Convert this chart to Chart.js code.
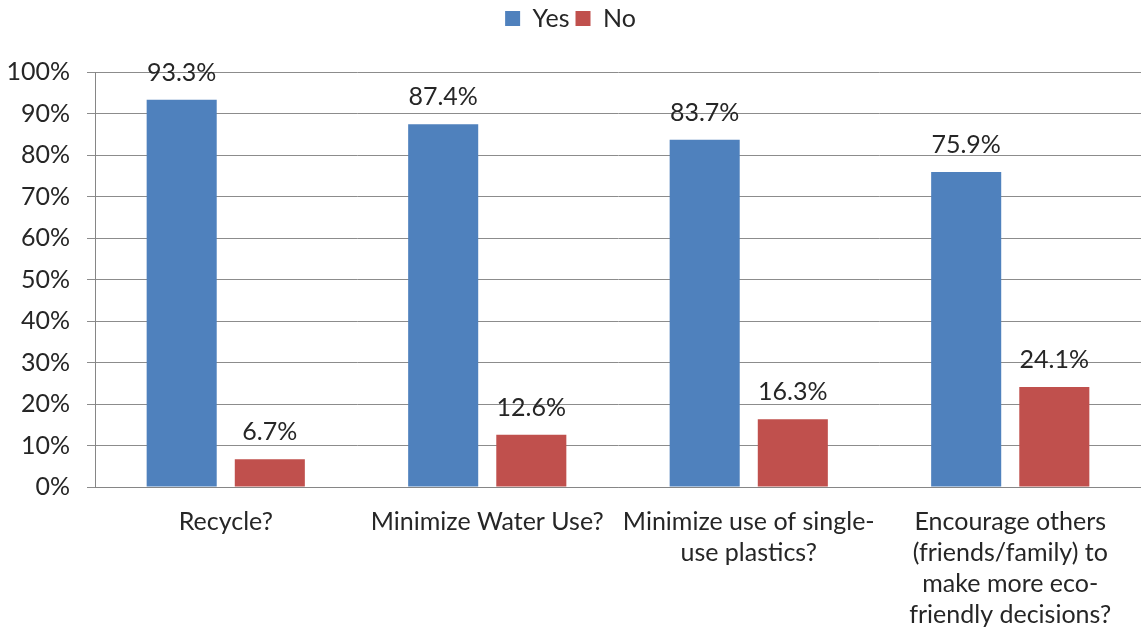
<!DOCTYPE html>
<html>
<head>
<meta charset="utf-8">
<script src="https://cdn.jsdelivr.net/npm/chart.js@4.4.0/dist/chart.umd.min.js"></script>
<style>
  html, body { margin: 0; padding: 0; background: #fff; }
  #wrap { width: 1141px; height: 633px; position: relative; }
</style>
</head>
<body>
<div id="wrap"><canvas id="chart"></canvas></div>
<script>
const categories = [
  ['Recycle?'],
  ['Minimize Water Use?'],
  ['Minimize use of single-', 'use plastics?'],
  ['Encourage others', '(friends/family) to', 'make more eco-', 'friendly decisions?']
];
const yesValues = [93.3, 87.4, 83.7, 75.9];
const noValues = [6.7, 12.6, 16.3, 24.1];
const seriesNames = ['Yes', 'No'];

const FONT = 'Lato, "Open Sans", sans-serif';
const FSIZE = 25;

const valueLabels = {
  id: 'valueLabels',
  afterDatasetsDraw(chart) {
    const ctx = chart.ctx;
    ctx.save();
    ctx.font = FSIZE + 'px ' + FONT;
    ctx.fillStyle = '#262626';
    ctx.textAlign = 'center';
    ctx.textBaseline = 'middle';
    chart.data.datasets.forEach((ds, i) => {
      chart.getDatasetMeta(i).data.forEach((bar, j) => {
        ctx.fillText(ds.data[j].toFixed(1) + '%', bar.x, bar.y - 27);
      });
    });
    ctx.restore();
  }
};

// extra space under the legend so the plot starts lower
const legendGap = {
  id: 'legendGap',
  beforeInit(chart) {
    const fit = chart.legend.fit;
    chart.legend.fit = function () {
      fit.call(this);
      this.height += 31;
    };
  }
};

new Chart(document.getElementById('chart'), {
  type: 'bar',
  data: {
    labels: categories,
    datasets: [
      { label: seriesNames[0], data: yesValues, backgroundColor: '#4F81BD',
        categoryPercentage: 0.674, barPercentage: 0.795 },
      { label: seriesNames[1], data: noValues, backgroundColor: '#C0504D',
        categoryPercentage: 0.674, barPercentage: 0.795 }
    ]
  },
  options: {
    responsive: true,
    maintainAspectRatio: false,
    animation: false,
    layout: { padding: { left: 0, right: 0, top: 0, bottom: 0 } },
    plugins: {
      legend: {
        position: 'top',
        labels: {
          font: { family: FONT, size: FSIZE },
          color: '#262626',
          boxWidth: 15,
          boxHeight: 15,
          padding: 6
        }
      },
      tooltip: { enabled: false }
    },
    scales: {
      x: {
        grid: { display: false, drawTicks: false },
        border: { color: '#868686', width: 1 },
        ticks: {
          font: { family: FONT, size: FSIZE, lineHeight: 1.24 },
          color: '#262626',
          maxRotation: 0,
          autoSkip: false,
          padding: 19
        },
        afterFit(scale) { scale.height -= 16; }
      },
      y: {
        min: 0,
        max: 100,
        grid: { color: '#8c8c8c', tickLength: 8, lineWidth: 1 },
        border: { color: '#868686', width: 1 },
        ticks: {
          stepSize: 10,
          font: { family: FONT, size: FSIZE },
          color: '#262626',
          padding: 17,
          callback: v => v + '%'
        },
        afterFit(scale) { scale.width = 95; }
      }
    }
  },
  plugins: [valueLabels, legendGap]
});
</script>
</body>
</html>
